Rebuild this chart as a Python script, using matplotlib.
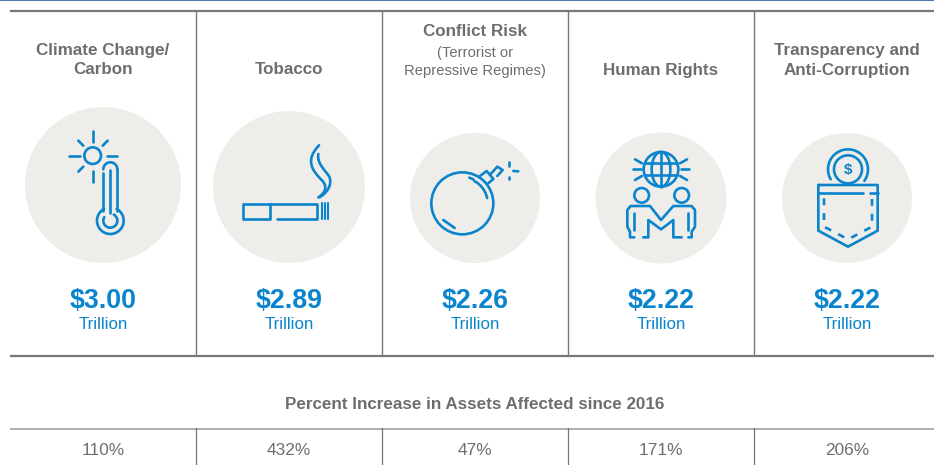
import matplotlib
matplotlib.use('Agg')
import matplotlib.pyplot as plt
import numpy as np
from matplotlib.patches import Circle, PathPatch, Arc, Rectangle
from matplotlib.path import Path

plt.rcParams['font.family'] = ['Liberation Sans', 'DejaVu Sans']

categories = ['Climate Change/\nCarbon', 'Tobacco', 'Conflict Risk', 'Human Rights',
              'Transparency and\nAnti-Corruption']
amounts = [3.00, 2.89, 2.26, 2.22, 2.22]
increases = [110, 432, 47, 171, 206]
unit_label = 'Trillion'
increase_title = 'Percent Increase in Assets Affected since 2016'
conflict_note = ['(Terrorist or', 'Repressive Regimes)']

# layout, in pixels of the 934x465 picture
col_x = [103, 289, 475, 661, 847]
col_lines = [196.3, 381.5, 568.3, 753.7]
circle_y = [185, 187, 198, 198, 198]
circle_r = [78, 76, 65, 65.5, 65]

GREY = '#6e6e6e'
BLUE = '#0a84cc'
PALE = '#eeede9'
LW = 1.9

fig = plt.figure(figsize=(9.34, 4.65), dpi=100)
ax = fig.add_axes([0, 0, 1, 1])
ax.set_xlim(0, 934)
ax.set_ylim(465, 0)
ax.axis('off')

# rules
ax.add_patch(Rectangle((0, 0), 934, 1.5, color='#4f78a8', lw=0))
ax.plot([10.5, 934], [11, 11], color='#777777', lw=1.6)
ax.plot([10.5, 934], [355.5, 355.5], color='#777777', lw=1.6)
ax.plot([10.5, 934], [428.5, 428.5], color='#a8a8a8', lw=1.3)
for x in col_lines:
    ax.plot([x, x], [11, 355], color='#777777', lw=1)
    ax.plot([x, x], [428, 465], color='#777777', lw=0.9)


def line(ox, pts, **kw):
    # pts are read in 3x zoom coordinates
    pts = np.array(pts, dtype=float)
    ax.plot(ox + pts[:, 0] / 3, pts[:, 1] / 3, color=kw.pop('color', BLUE),
            lw=kw.pop('lw', LW), solid_capstyle='round', solid_joinstyle='round',
            dash_capstyle='butt', zorder=3, **kw)


def ring(ox, cx, cy, r, **kw):
    ax.add_patch(Circle((ox + cx / 3, cy / 3), r / 3, fill=False, ec=BLUE,
                        lw=kw.pop('lw', LW), zorder=3))


def arc(ox, cx, cy, r, a0, a1, lw=LW):
    t = np.radians(np.linspace(a0, a1, 60))
    line(ox, np.c_[cx + r * np.cos(t), cy + r * np.sin(t)], lw=lw)


def curve(ox, pts):
    pts = np.array(pts, dtype=float)
    pts = np.c_[ox + pts[:, 0] / 3, pts[:, 1] / 3]
    codes = [Path.MOVETO] + [Path.CURVE4] * (len(pts) - 1)
    ax.add_patch(PathPatch(Path(pts, codes), fill=False, ec=BLUE, lw=LW,
                           capstyle='round', zorder=3))


def thermometer():
    ox = 0
    ring(ox, 278, 467, 25)
    for seg in [[(278, 393), (278, 425)], [(278, 512), (278, 545)],
                [(207, 467), (240, 467)], [(320, 467), (352, 467)],
                [(235, 422), (250, 437)], [(323, 422), (308, 437)],
                [(235, 515), (250, 500)]]:
        line(ox, seg)
    arc(ox, 331, 508, 21, 180, 360)
    line(ox, [(352, 508), (352, 632)])
    line(ox, [(310, 520), (310, 632)])
    arc(ox, 331, 662, 40, -62, 242)
    line(ox, [(331, 510), (331, 640)])
    arc(ox, 331, 662, 21, -60, 210)


def cigarette():
    ox = 0
    line(ox, [(810, 612), (728, 612), (728, 658), (810, 658), (810, 612), (952, 612),
              (952, 658), (832, 658)])
    for x in [965, 975, 985]:
        line(ox, [(x, 610), (x, 658)], lw=1.5)
    curve(ox, [(957, 436), (915, 480), (935, 510), (965, 540),
               (985, 560), (975, 580), (955, 592)])
    curve(ox, [(955, 462), (950, 490), (975, 510), (988, 530),
               (998, 555), (980, 580), (958, 592)])


def bomb():
    ox = 380
    ring(ox, 247, 610, 93)
    arc(ox, 247, 610, 76, -62, -12)
    line(ox, [(268, 533), (280, 538)])
    line(ox, [(190, 660), (224, 684)])
    line(ox, [(300, 528), (320, 513), (340, 537), (322, 552)])
    line(ox, [(332, 522), (352, 500), (368, 510), (352, 528)])
    line(ox, [(388, 486), (388, 497)])
    line(ox, [(388, 532), (388, 538)])
    line(ox, [(400, 513), (415, 514)])


def people():
    ox = 380
    ring(ox, 843, 508, 52)
    ax.add_patch(Arc((ox + 843 / 3, 508 / 3), 56 / 3, 104 / 3, fill=False, ec=BLUE, lw=LW, zorder=3))
    line(ox, [(843, 456), (843, 560)])
    line(ox, [(795, 490), (891, 490)])
    line(ox, [(795, 526), (891, 526)])
    for seg in [[(758, 508), (782, 508)], [(904, 508), (928, 508)],
                [(765, 478), (786, 490)], [(921, 478), (900, 490)],
                [(765, 540), (786, 528)], [(921, 540), (900, 528)]]:
        line(ox, seg)
    ring(ox, 785, 586, 22)
    ring(ox, 905, 586, 22)
    line(ox, [(763, 712), (750, 712), (750, 695), (742, 680), (742, 630), (752, 618),
              (810, 618), (843, 660), (880, 618), (935, 618), (945, 630), (945, 680),
              (935, 695), (935, 712), (925, 712)])
    line(ox, [(762, 640), (762, 690)])
    line(ox, [(925, 640), (925, 690)])
    line(ox, [(790, 712), (805, 712), (805, 660), (843, 688), (880, 660), (880, 712), (905, 712)])


def pocket():
    ox = 750
    ring(ox, 294, 508, 42)
    arc(ox, 294, 508, 60, 150, 395)
    ax.text(ox + 294 / 3, 510 / 3, '$', color=BLUE, fontsize=11, fontweight='bold',
            ha='center', va='center', zorder=3)
    line(ox, [(205, 555), (383, 555), (383, 692), (294, 740), (205, 692), (205, 555)])
    line(ox, [(205, 580), (338, 580)])
    line(ox, [(360, 580), (383, 580)])
    line(ox, [(222, 595), (222, 680), (294, 718), (366, 680), (366, 595)], ls=(0, (2.6, 3)))


icons = [thermometer, cigarette, bomb, people, pocket]

for i, x in enumerate(col_x):
    ax.add_patch(Circle((x, circle_y[i]), circle_r[i], color=PALE, lw=0, zorder=1))
    icons[i]()
    ax.text(x, 301, '$%.2f' % amounts[i], color=BLUE, fontsize=19.3, fontweight='bold',
            ha='center', va='center')
    ax.text(x, 324, unit_label, color=BLUE, fontsize=12.2, ha='center', va='center')
    ax.text(x, 450, '%d%%' % increases[i], color=GREY, fontsize=12.4, ha='center', va='center')
    # names with one line sit on the lower line of the two-line ones
    name_lines = categories[i].split('\n')
    if categories[i] == 'Conflict Risk':
        ax.text(x, 32, name_lines[0], color=GREY, fontsize=12.25, fontweight='bold', ha='center', va='center')
        for y, note in zip([53, 71], conflict_note):
            ax.text(x, y, note, color=GREY, fontsize=10.65, ha='center', va='center')
    else:
        for y, name in zip([70, 50], name_lines[::-1]):
            ax.text(x, y, name, color=GREY, fontsize=12.25, fontweight='bold', ha='center', va='center')

ax.text(475, 404, increase_title, color=GREY, fontsize=12.25, fontweight='bold', ha='center', va='center')

fig.savefig('out.png', dpi=100)
